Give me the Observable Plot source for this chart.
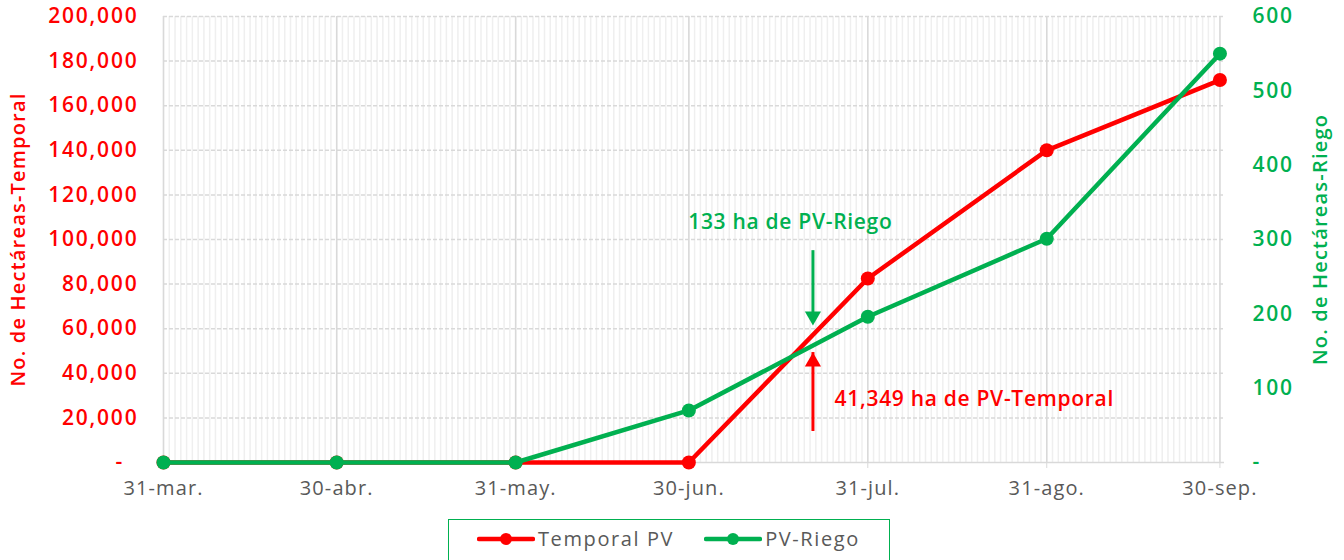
<!DOCTYPE html>
<html><head><meta charset="utf-8">
<script src="https://cdn.jsdelivr.net/npm/d3@7"></script>
<script src="https://cdn.jsdelivr.net/npm/@observablehq/plot@0.6"></script>
<style>
body{margin:0;background:#fff;font-family:"Open Sans",sans-serif;}
#wrap{position:relative;width:1344px;height:560px;overflow:hidden;}
#chart{position:absolute;left:0;top:0;}
#legend{position:absolute;left:448px;top:519px;width:442px;height:60px;border:1.5px solid #00B050;box-sizing:border-box;display:flex;align-items:flex-start;padding-top:5px;padding-left:28px;gap:30px;}
.item{display:flex;align-items:center;font-size:20px;color:#595959;letter-spacing:1.6px;}
.item svg{margin-right:3px;}
</style></head><body><div id="wrap"><div id="chart"></div><div id="legend"></div></div>
<script>
// ---- data ----
const dates = ["2023-03-31","2023-04-30","2023-05-31","2023-06-30","2023-07-31","2023-08-31","2023-09-30"];
const tickLabels = ["31-mar.","30-abr.","31-may.","30-jun.","31-jul.","31-ago.","30-sep."];
const temporalPV = [0,0,0,0,82500,140000,171500];
const pvRiego = [0,0,0,70,196,301,550];
const leftTicks = [0,20000,40000,60000,80000,100000,120000,140000,160000,180000,200000];
const rightTicks = [0,100,200,300,400,500,600];
const seriesNames = ["Temporal PV","PV-Riego"];
const seriesColors = ["#FF0000","#00B050"];
const axisTitles = ["No. de Hectáreas-Temporal","No. de Hectáreas-Riego"];
// annotations
const annotTexts = ["133 ha de PV-Riego","41,349 ha de PV-Temporal"];
const annotDates = ["2023-07-17T14:00","2023-07-25T06:00"];
const annotValues = [107600, 28250];
const arrowDate = "2023-07-21T12:00";
const arrowFrom = [95000, 17500];
const arrowTo = [61400, 49300];

// ---- build ----
const ratio = 200000/600;
const P = d => new Date(d + (d.length === 10 ? "T00:00Z" : "Z"));
const xDates = dates.map(P);
const rowsT = xDates.map((d,i)=>({date:d, v:temporalPV[i]}));
const rowsR = xDates.map((d,i)=>({date:d, v:pvRiego[i]*ratio}));
const xStart = P("2023-03-31"), xEnd = P("2023-09-30T19:00");
const days = d3.utcDay.range(xStart, P("2023-10-01"));
const FONT = "Open Sans";

const chart = Plot.plot({
  width: 1344, height: 505,
  marginLeft: 163, marginRight: 120, marginTop: 16, marginBottom: 43,
  style: {fontFamily: FONT, background: "#fff"},
  x: {type: "utc", domain: [xStart, xEnd]},
  y: {domain: [0, 200000]},
  marks: [
    Plot.ruleX(days, {stroke: "#efefef", strokeWidth: 1.5}),
    Plot.ruleY(leftTicks.slice(1), {stroke: "#d9d9d9", strokeWidth: 1.5, strokeDasharray: "4,2"}),
    Plot.ruleX(xDates, {stroke: "#d9d9d9", strokeWidth: 1.5}),
    Plot.ruleY([0], {stroke: "#d9d9d9", strokeWidth: 1.5}),
    Plot.axisX(xDates, {tickFormat: (d,i) => tickLabels[i], tickSize: 6, tickPadding: 12, stroke: "#d9d9d9", fill: "#595959", fontSize: 20, label: null}),
    Plot.axisY(leftTicks, {anchor: "left", tickSize: 0, tickPadding: 25, fill: seriesColors[0], fontSize: 21,
      tickFormat: d => d === 0 ? "-\u00a0\u00a0" : d3.format(",")(d),
      label: axisTitles[0], labelAnchor: "center", labelOffset: 153, labelArrow: "none"}),
    Plot.axisY(rightTicks.map(v => v*ratio), {anchor: "right", tickSize: 0, tickPadding: 28, fill: seriesColors[1], fontSize: 21,
      tickFormat: d => d === 0 ? "-" : String(Math.round(d/ratio)),
      label: axisTitles[1], labelAnchor: "center", labelOffset: 102, labelArrow: "none"}),
    Plot.line(rowsT, {x: "date", y: "v", stroke: seriesColors[0], strokeWidth: 4.5}),
    Plot.dot(rowsT, {x: "date", y: "v", fill: seriesColors[0], r: 7}),
    Plot.line(rowsR, {x: "date", y: "v", stroke: seriesColors[1], strokeWidth: 4.5}),
    Plot.dot(rowsR, {x: "date", y: "v", fill: seriesColors[1], r: 7}),
    // arrows
    Plot.ruleX([P(arrowDate)], {y1: arrowFrom[0], y2: arrowTo[0], stroke: seriesColors[1], strokeWidth: 3, insetBottom: 8}),
    Plot.dot([P(arrowDate)], {x: d => d, y: arrowTo[0], symbol: "triangle", rotate: 180, r: 6, fill: seriesColors[1], dy: -9.3}),
    Plot.ruleX([P(arrowDate)], {y1: arrowFrom[1], y2: arrowTo[1], stroke: seriesColors[0], strokeWidth: 3, insetTop: 8}),
    Plot.dot([P(arrowDate)], {x: d => d, y: arrowTo[1], symbol: "triangle", r: 6, fill: seriesColors[0], dy: 9.3}),
    Plot.text([0], {x: P(annotDates[0]), y: annotValues[0], text: [annotTexts[0]], fill: seriesColors[1], fontSize: 21, textAnchor: "middle"}),
    Plot.text([0], {x: P(annotDates[1]), y: annotValues[1], text: [annotTexts[1]], fill: seriesColors[0], fontSize: 21, textAnchor: "start"})
  ]
});
document.getElementById("chart").appendChild(chart);
const sel = d3.select(chart);
sel.selectAll('g[aria-label="y-axis tick label"] text').style("font-weight", 600).style("letter-spacing", "1.8px");
sel.selectAll('g[aria-label="x-axis tick label"] text').style("letter-spacing", "1.1px");
sel.selectAll('g[aria-label="y-axis label"] text').style("font-weight", 600).style("font-size", "20px").style("letter-spacing", "1.2px");
sel.selectAll('g[aria-label="text"] text').style("font-weight", 600).style("letter-spacing", "0.7px");

// legend
const leg = d3.select("#legend");
seriesNames.forEach((name, i) => {
  const it = leg.append("div").attr("class", "item");
  const s = it.append("svg").attr("width", 58).attr("height", 16);
  s.append("line").attr("x1", 2).attr("x2", 56).attr("y1", 8).attr("y2", 8).attr("stroke", seriesColors[i]).attr("stroke-width", 4.5).attr("stroke-linecap", "round");
  s.append("circle").attr("cx", 29).attr("cy", 8).attr("r", 6).attr("fill", seriesColors[i]);
  it.append("span").text(name);
});
</script></body></html>
